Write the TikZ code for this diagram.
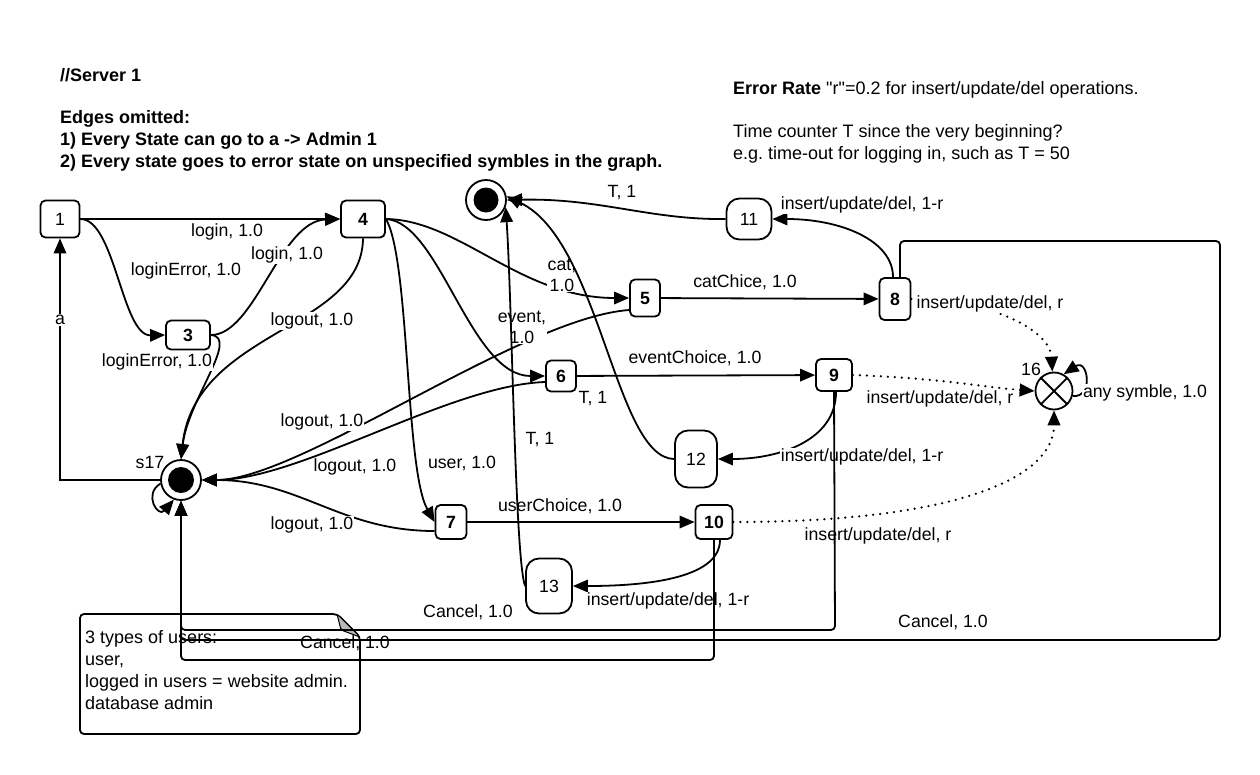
\documentclass[tikz,border=0pt]{standalone}
\usepackage{fontspec}
\setmainfont{Liberation Sans}
\newfontfamily\rawquotes[Ligatures=TeXOff]{Liberation Sans}
\usetikzlibrary{arrows.meta}
\frenchspacing
\begin{document}
\begin{tikzpicture}[x=1pt,y=1pt,
  every node/.style={inner sep=0pt},
  txt/.style={font=\fontsize{18}{22}\selectfont, anchor=base west},
  btxt/.style={font=\fontsize{18}{22}\selectfont\bfseries, anchor=base west},
  lbl/.style={font=\fontsize{17.7}{21}\selectfont, fill=white, inner sep=1pt},
  plbl/.style={font=\fontsize{17.7}{21}\selectfont, inner sep=1pt},
  stbox/.style={draw, line width=1.8pt, rounded corners=5pt, fill=white, font=\fontsize{17.7}{21}\selectfont\bfseries},
  stplain/.style={stbox, font=\fontsize{17.7}{21}\selectfont},
  timebox/.style={draw, line width=1.8pt, rounded corners=13pt, fill=white, font=\fontsize{17.7}{21}\selectfont},
  finalst/.style={draw, circle, line width=1.8pt, fill=white, minimum size=40pt},
  tip/.style={-{Triangle[length=15pt,width=12.5pt]}},
  edge/.style={line width=1.8pt, tip},
  dotedge/.style={line width=2.5pt, line cap=round, dash pattern=on 0pt off 7pt, tip},
  cancel/.style={edge, rounded corners=4pt}
]
\useasboundingbox (0,0) rectangle (1260,-774);

% header notes
\node[btxt] (hServer) at (60,-81) {//Server 1};
\node[btxt] (hEdges) at (60,-123) {Edges omitted:};
\node[btxt] (hRuleA) at (60,-145) {1) Every State can go to a -> Admin 1};
\node[btxt] (hRuleB) at (60,-167) {2) Every state goes to error state on unspecified symbles in the graph.};
\node[txt] (rErr) at (733,-94) {\textbf{Error Rate} {\rawquotes "r"}=0.2 for insert/update/del operations.};
\node[txt] (rTime) at (733,-137) {Time counter T since the very beginning?};
\node[txt] (rEg) at (733,-159) {e.g. time-out for logging in, such as T = 50};

% note about user types
\draw[line width=1.8pt, rounded corners=4pt, fill=white] (80,-614) -- (337,-614) -- (360,-637) -- (360,-734) -- (80,-734) -- cycle;
\filldraw[fill=gray!55, draw=black, line width=1pt, rounded corners=2pt] (337,-614) -- (341,-630) -- (360,-637) -- cycle;
\node[txt] (noteA) at (85,-643) {3 types of users:};
\node[txt] (noteB) at (85,-665) {user,};
\node[txt] (noteC) at (85,-687) {logged in users = website admin.};
\node[txt] (noteD) at (85,-709) {database admin};

% states
\node[stplain, minimum width=39pt, minimum height=37pt] (n1) at (60,-219) {1};
\node[stbox, minimum width=44pt, minimum height=37pt] (n4) at (363,-219) {4};
\node[stbox, minimum width=44pt, minimum height=29pt] (n3) at (188,-335) {3};
\node[stbox, minimum width=30pt, minimum height=37pt] (n5) at (645,-298) {5};
\node[stbox, minimum width=30pt, minimum height=31pt] (n6) at (561,-376) {6};
\node[stbox, minimum width=31pt, minimum height=34pt] (n7) at (451,-522) {7};
\node[stbox, minimum width=31pt, minimum height=42pt] (n8) at (895,-299) {8};
\node[stbox, minimum width=36pt, minimum height=32pt] (n9) at (834,-375) {9};
\node[stbox, minimum width=37pt, minimum height=34pt] (n10) at (714,-522) {10};
\node[timebox, minimum width=45pt, minimum height=41pt] (n11) at (749,-219) {11};
\node[timebox, minimum width=42pt, minimum height=57pt] (n12) at (696,-459) {12};
\node[timebox, minimum width=46pt, minimum height=55pt] (n13) at (549,-586) {13};
\node[draw, circle, line width=1.8pt, fill=white, minimum size=37pt] (n16) at (1054,-391) {};
\draw[line width=1.8pt] (n16.45) -- (n16.225) (n16.135) -- (n16.-45);
\node[plbl] (t16) at (1031,-369) {16};
\node[finalst] (fin) at (486,-200) {};
\fill (fin) circle (12.5pt);
\node[finalst] (s17) at (181,-480) {};
\fill (s17) circle (13pt);
\node[plbl] (ts17) at (150,-462) {s17};

% transitions
\draw[edge] (n1) -- (n4);
\draw[edge] (n1.east) .. controls (115,-219) and (122,-336) .. (n3.west);
\draw[edge] (n3.east) .. controls (255,-335) and (280,-221) .. (n4.west);
\draw[edge] (n4.south) .. controls (362,-330) and (195,-330) .. (s17.north);
\draw[edge] (n3.east) .. controls (240,-337) and (188,-400) .. (s17.north);
\draw[edge] (n4.east) .. controls (460,-220) and (520,-298) .. (n5.west);
\draw[edge] (n4.east) .. controls (440,-222) and (470,-376) .. (n6.west);
\draw[edge] (n4.east) .. controls (410,-260) and (405,-470) .. (n7.west);
\draw[edge] ([yshift=-12pt]n5.west) .. controls (520,-318) and (300,-480) .. (s17.east);
\draw[edge] ([yshift=-6pt]n6.west) .. controls (450,-385) and (300,-480) .. (s17.east);
\draw[edge] ([yshift=-9pt]n7.west) .. controls (340,-531) and (300,-480) .. (s17.east);
\draw[edge] (n5) -- (n8);
\draw[edge] (n6) -- (n9);
\draw[edge] (n7) -- (n10);
\draw[edge] ([xshift=-2pt]n8.north) .. controls (893,-240) and (840,-219) .. (n11.east);
\draw[edge] (n11.west) .. controls (650,-220) and (600,-198) .. (fin.east);
\draw[edge] ([xshift=2pt]n9.south) .. controls (836,-440) and (780,-459) .. (n12.east);
\draw[edge] ([xshift=6pt]n10.south) .. controls (720,-580) and (640,-586) .. (n13.east);
\draw[dotedge] (n8.east) .. controls (990,-299) and (1050,-330) .. (n16.95);
\draw[dotedge] (n9.east) .. controls (940,-378) and (990,-388) .. (n16.west);
\draw[dotedge] (n10.east) .. controls (950,-522) and (1054,-480) .. (n16.south);
\draw[edge] (n16.-15) .. controls (1094,-398) and (1088,-358) .. (n16.60);
\draw[edge] (s17.190) .. controls (143,-494) and (158,-518) .. (s17.-110);
\draw[edge] (s17.west) -- (60,-480) -- (n1.south);

% labels on the transitions
\node[lbl] (lLoginA) at (227,-232) {login, 1.0};
\node[lbl] (lErrA) at (186,-271) {loginError, 1.0};
\node[lbl] (lLoginB) at (287,-255) {login, 1.0};
\node[lbl] (lOutA) at (312,-321) {logout, 1.0};
\node[lbl] (lErrB) at (157,-362) {loginError, 1.0};
\node[lbl, align=center, font=\fontsize{17.7}{21}\selectfont] (lCat) at (562,-275) {cat,\\1.0};
\node[lbl, align=center, font=\fontsize{17.7}{21}\selectfont] (lEvent) at (522,-327) {event,\\1.0};
\node[lbl] (lUser) at (462,-463) {user, 1.0};
\node[lbl] (lOutB) at (322,-422) {logout, 1.0};
\node[lbl] (lOutC) at (355,-467) {logout, 1.0};
\node[lbl] (lOutD) at (312,-525) {logout, 1.0};
\node[lbl] (lCatCh) at (745,-282) {catChice, 1.0};
\node[lbl] (lEvCh) at (695,-358) {eventChoice, 1.0};
\node[lbl] (lUsCh) at (560,-506) {userChoice, 1.0};
\node[lbl] (lIns11) at (862,-205) {insert/update/del, 1-r};
\node[lbl] (lIns12) at (862,-457) {insert/update/del, 1-r};
\node[lbl] (lIns13) at (668,-601) {insert/update/del, 1-r};
\node[lbl] (lErr8) at (990,-304) {insert/update/del, r};
\node[lbl] (lErr9) at (940,-399) {insert/update/del, r};
\node[lbl] (lErr10) at (878,-536) {insert/update/del, r};
\node[lbl] (lAny) at (1145,-393) {any symble, 1.0};
\node[lbl] (lA) at (60,-320) {a};
\node[plbl] (lT11) at (622,-193) {T, 1};

% time-outs and cancels drawn over the other labels
\draw[edge] (n12.west) .. controls (615,-458) and (600,-240) .. (fin.10);
\draw[edge] (n13.west) .. controls (515,-560) and (512,-300) .. (fin.-20);
\draw[cancel] (n9.south) -- (835,-630) -- (181,-630) -- (s17.south);
\draw[cancel] ([xshift=5pt]n8.north) -- (900,-241) -- (1220,-241) -- (1220,-640) -- (181,-640) -- (s17.south);
\draw[cancel] (n10.south) -- (714,-660) -- (181,-660) -- (s17.south);
\node[plbl] (lT12) at (593,-399) {T, 1};
\node[plbl] (lT13) at (540,-440) {T, 1};
\node[plbl] (lCan9) at (468,-612) {Cancel, 1.0};
\node[plbl] (lCan8) at (943,-622) {Cancel, 1.0};
\node[plbl] (lCan10) at (345,-643) {Cancel, 1.0};
\end{tikzpicture}
\end{document}
